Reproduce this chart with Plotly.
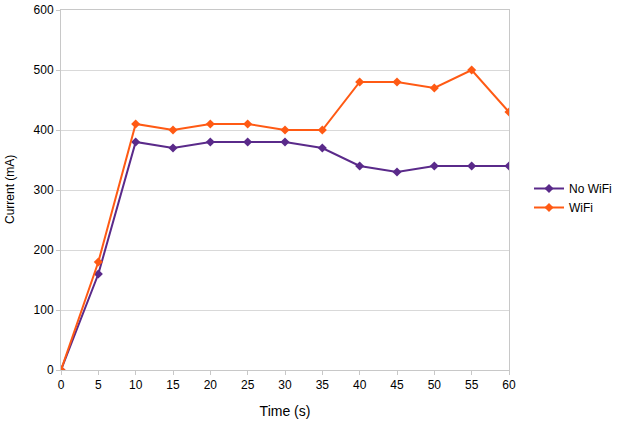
import plotly.graph_objects as go

time_s = [0, 5, 10, 15, 20, 25, 30, 35, 40, 45, 50, 55, 60]
no_wifi = [0, 160, 380, 370, 380, 380, 380, 370, 340, 330, 340, 340, 340]
wifi = [0, 180, 410, 400, 410, 410, 400, 400, 480, 480, 470, 500, 430]

purple = "#5a2a8a"
orange = "#ff5a14"

fig = go.Figure()
fig.add_trace(go.Scatter(x=time_s, y=no_wifi, name="No WiFi", mode="lines+markers",
                         line=dict(color=purple, width=2),
                         marker=dict(symbol="diamond", size=7, color=purple)))
fig.add_trace(go.Scatter(x=time_s, y=wifi, name="WiFi", mode="lines+markers",
                         line=dict(color=orange, width=2),
                         marker=dict(symbol="diamond", size=7, color=orange)))

font = "Liberation Sans, Arial, sans-serif"
fig.update_layout(
    width=619, height=424,
    margin=dict(l=61, r=110, t=10, b=54),
    paper_bgcolor="white", plot_bgcolor="white",
    font=dict(family=font, size=12, color="black"),
    legend=dict(xref="container", yref="container", x=529 / 619, xanchor="left",
                y=1 - 198 / 424, yanchor="middle",
                font=dict(size=12), bgcolor="rgba(0,0,0,0)", tracegroupgap=0),
    xaxis=dict(range=[0, 60], tickvals=time_s, showgrid=False, automargin=False,
               showline=True, linecolor="#c8c8c8", linewidth=1, mirror=True,
               ticks="outside", ticklen=4, tickcolor="#c8c8c8",
               title=dict(text="Time (s)", standoff=14), zeroline=False),
    yaxis=dict(range=[0, 600], dtick=100, showgrid=True, gridcolor="#d9d9d9", automargin=False,
               showline=True, linecolor="#c8c8c8", linewidth=1, mirror=True,
               ticks="outside", ticklen=4, tickcolor="#c8c8c8", zeroline=False),
    annotations=[dict(text="Current (mA)", textangle=-90, xref="paper", yref="paper",
                      x=-0.1138, y=0.5, xanchor="center", yanchor="middle",
                      showarrow=False, font=dict(size=12))],
)
fig.write_html("out.html",
               config={"displayModeBar": False, "responsive": False},
               post_script="document.body.style.margin='0';document.body.style.overflow='hidden';")
